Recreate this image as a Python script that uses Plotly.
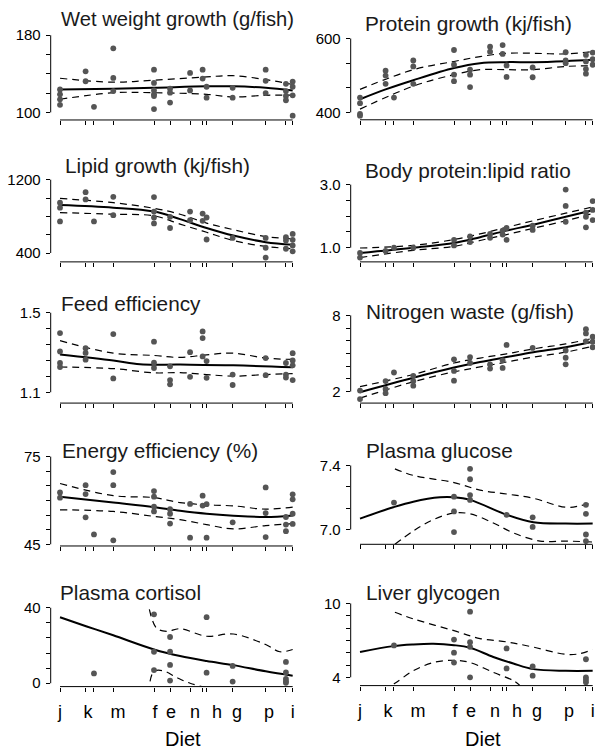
import plotly.graph_objects as go

# ---------------- data ----------------
DIET_POS = {"j": 0.0, "k0": 11.0, "k": 14.6, "m": 22.9, "f": 40.4, "e": 47.3, "n": 55.9,
            "h0": 61.3, "h": 63.0, "g": 74.2, "p": 88.4, "i0": 97.1, "i": 100.0}
X_LABELS = ["j", "k", "m", "f", "e", "n", "h", "g", "p", "i"]
X_LABEL_POS = [0, 12.0, 24.9, 40.8, 47.7, 58.0, 67.5, 76.1, 89.8, 100]

CX = [0, 22.9, 40.4, 51.6, 63.0, 74.5, 88.4, 100]

wet_pts = {"j": [123.8, 118.7, 113.6, 107.8], "k0": [142.6, 132.3], "k": [105.8],
           "m": [166.4, 135.7, 122.1], "f": [144.3, 130.6, 122.8, 118.7, 117.0, 103.4],
           "e": [124.5, 120.4, 110.2], "n": [140.9, 122.8], "h0": [144.3, 135.1],
           "h": [126.6, 115.3], "g": [125.5, 115.3], "p": [144.3, 132.7, 120.0],
           "i0": [129.6, 122.1, 117.0, 112.6], "i": [132.0, 126.6, 117.7, 96.6]}
wet_fit_x = [0, 22.9, 40.4, 63.0, 74.2, 88.4, 100]
wet_fit = [123.8, 124.5, 125.5, 127.0, 127.0, 125.5, 122.8]
wet_hi_x = [0, 22.9, 40.4, 63.0, 74.2, 88.4, 100]
wet_hi = [135.4, 131.3, 133.4, 136.8, 138.1, 134.0, 128.9]
wet_lo_x = [0, 22.9, 40.4, 63.0, 74.2, 88.4, 100]
wet_lo = [113.6, 120.4, 120.4, 118.7, 116.0, 117.7, 118.0]
wet_yticks = [100, 120, 140, 160, 180]

pro_pts = {"j": [440, 424.9, 395.6, 391.1], "k0": [512.9, 499.6, 477.3], "k": [440],
           "m": [540.4, 524.4, 477.3], "f": [568.9, 528.9, 502.2, 484.4],
           "e": [515.6, 502.2, 468.4], "n": [577.8, 564.4], "h0": [582.2, 558.2],
           "h": [527.1, 496], "g": [521.8, 495.1], "p": [562.7, 540.4, 533.3],
           "i0": [555.6, 537.8, 517.3, 504.9], "i": [561.8, 544, 528.9]}
pro_fit_x = [0, 11.0, 22.9, 40.4, 51.6, 63.0, 74.5, 88.4, 100]
pro_fit = [435.6, 462.2, 487.1, 520, 533.3, 536, 536, 538.7, 542.2]
pro_hi_x = CX
pro_hi = [462.2, 515.6, 537.8, 551.1, 560, 560, 558.2, 564.4]
pro_lo_x = CX
pro_lo = [408.9, 471.1, 502.2, 515.6, 515.6, 515.6, 524.4, 526.2]
pro_yticks = [400, 466.67, 533.33, 600]

lip_pts = {"j": [948.9, 895.1, 744.4], "k0": [1063.7, 984.8], "k": [744.4],
           "m": [1013.5, 812.6], "f": [1009.9, 852.0, 787.5, 722.9], "e": [794.7, 672.7],
           "n": [852.0, 758.8], "h0": [830.5, 751.6], "h": [787.5, 547.2], "g": [565.1],
           "p": [565.1, 457.5, 349.9], "i0": [572.3, 536.4, 446.7],
           "i": [608.1, 543.6, 482.6, 418.1]}
lip_fit_x = CX
lip_fit = [923.8, 895.1, 852.0, 769.6, 672.7, 590.2, 518.5, 489.8]
lip_hi_x = CX
lip_hi = [995.5, 948.9, 887.9, 823.4, 726.5, 654.8, 579.4, 554.3]
lip_lo_x = CX
lip_lo = [841.3, 823.4, 805.4, 715.8, 626.1, 536.4, 471.8, 446.7]
lip_yticks = [400, 600, 800, 1000, 1200]

rat_pts = {"j": [0.833, 0.688], "k0": [0.896], "k": [1.0], "m": [1.0], "f": [1.25, 1.073],
           "e": [1.354, 1.177], "n": [1.4375, 1.3125], "h0": [1.542, 1.417],
           "h": [1.625, 1.25], "g": [1.698, 1.5625], "p": [2.844, 2.323, 1.823],
           "i0": [2.115, 1.979, 1.646], "i": [2.479, 2.198, 1.875]}
rat_fit_x = CX
rat_fit = [0.833, 1.0, 1.146, 1.333, 1.542, 1.729, 1.979, 2.1875]
rat_hi_x = CX
rat_hi = [0.99, 1.073, 1.26, 1.4375, 1.646, 1.854, 2.094, 2.292]
rat_lo_x = CX
rat_lo = [0.688, 0.917, 1.042, 1.229, 1.417, 1.615, 1.854, 2.083]
rat_yticks = [1.0, 1.5, 2.0, 2.5, 3.0]

fe_pts = {"j": [1.3975, 1.305, 1.247, 1.227], "k0": [1.3215, 1.298, 1.264],
          "m": [1.3926, 1.1694], "f": [1.3545, 1.249, 1.222], "e": [1.2306, 1.161, 1.140],
          "n": [1.3016, 1.1777], "h0": [1.4058, 1.3727, 1.280], "h": [1.257, 1.1727],
          "g": [1.189, 1.1364], "p": [1.272, 1.186], "i0": [1.247, 1.189, 1.174],
          "i": [1.2967, 1.260, 1.2355, 1.161]}
fe_fit_x = [0, 22.9, 34.4, 51.6, 74.5, 100]
fe_fit = [1.290, 1.260, 1.2405, 1.239, 1.2355, 1.2256]
fe_hi_x = CX
fe_hi = [1.3595, 1.2967, 1.285, 1.275, 1.2884, 1.2967, 1.272, 1.265]
fe_lo_x = CX
fe_lo = [1.227, 1.219, 1.1975, 1.199, 1.189, 1.181, 1.189, 1.194]
fe_yticks = [1.1, 1.18, 1.26, 1.34, 1.42, 1.5]

nw_pts = {"j": [2.078, 1.405], "k0": [2.828, 2.207, 1.871], "k": [3.5],
          "m": [3.241, 2.828, 2.466], "f": [4.535, 3.629, 2.854], "e": [4.716, 4.25],
          "n": [4.147, 3.81], "h0": [4.457, 3.862], "h": [5.672], "g": [5.44],
          "p": [5.233, 4.664, 4.147], "i0": [6.914, 6.578, 5.957], "i": [6.319, 5.931, 5.491]}
nw_fit_x = CX
nw_fit = [1.95, 3.086, 3.888, 4.328, 4.716, 5.104, 5.491, 5.931]
nw_hi_x = CX
nw_hi = [2.388, 3.345, 4.25, 4.638, 4.974, 5.362, 5.75, 6.19]
nw_lo_x = CX
nw_lo = [1.483, 2.776, 3.552, 3.94, 4.328, 4.716, 5.104, 5.569]
nw_yticks = [2, 3, 4, 5, 6, 7, 8]

ee_pts = {"j": [62.75, 60.96], "k0": [65.22, 62.19, 54.21], "k": [48.37],
          "m": [69.72, 65.22, 46.35], "f": [63.2, 61.29, 57.92, 56.24],
          "e": [57.02, 55.45, 52.08], "n": [58.82, 47.25], "h0": [61.63, 58.26],
          "h": [58.71, 47.25], "g": [52.53], "p": [64.44, 55.67, 47.47],
          "i0": [54.33, 51.74, 49.49], "i": [62.08, 60.39, 55.45, 51.97]}
ee_fit_x = CX
ee_fit = [61.29, 59.27, 57.7, 56.46, 55.45, 54.78, 54.33, 54.89]
ee_hi_x = CX
ee_hi = [65.79, 61.63, 60.96, 59.27, 58.48, 58.15, 57.02, 57.7]
ee_lo_x = CX
ee_lo = [56.8, 56.24, 54.55, 53.43, 51.74, 50.28, 51.4, 52.08]
ee_yticks = [45, 50, 55, 60, 65, 70, 75]

gl_pts = {"k": [7.168], "f": [7.205, 7.113, 6.984], "e": [7.379, 7.314, 7.215, 7.185],
          "h": [7.092], "g": [7.076, 7.016], "i0": [7.154, 7.098, 6.969, 6.928]}
gl_fit_x = [0, 14.3, 22.9, 34.4, 40.4, 47.3, 63.0, 74.5, 88.4, 100]
gl_fit = [7.068, 7.139, 7.174, 7.201, 7.201, 7.185, 7.092, 7.045, 7.037, 7.037]
gl_hi_x = [15.0, 22.9, 40.4, 51.6, 63.0, 74.5, 88.4, 94.5, 100]
gl_hi = [7.379, 7.338, 7.293, 7.246, 7.222, 7.195, 7.139, 7.148, 7.168]
gl_lo_x = [15.0, 22.9, 31.5, 40.4, 47.3, 57.3, 65.9, 77.4, 88.4, 100]
gl_lo = [6.908, 6.99, 7.062, 7.103, 7.098, 7.041, 6.979, 6.928, 6.928, 6.922]
gl_yticks = [7.0, 7.1333, 7.2667, 7.4]

co_pts = {"k": [5.2], "f": [36.5, 16.7, 7.0], "e": [24.5, 16.7, 9.7, 1.4], "h": [35.0, 5.6],
          "g": [9.2, 0.9], "i0": [11.3, 5.7, 2.3, 1.0, 0.2]}
co_fit_x = [0, 11.5, 22.9, 40.4, 51.6, 63.0, 74.5, 88.4, 100]
co_fit = [35.0, 30.1, 25.4, 17.9, 14.4, 11.8, 9.6, 6.3, 4.0]
co_hi_x = [38.4, 41.5, 45.8, 51.6, 63.0, 74.5, 88.4, 94.5, 100]
co_hi = [39.1, 29.2, 27.5, 28.9, 24.9, 26.1, 20.5, 16.7, 17.9]
co_lo_x = [38.7, 40.4, 44.4, 50.1, 55.9, 65.9, 74.5, 88.4, 100]
co_lo = [1.0, 6.3, 6.6, 3.1, 0.0, -3.0, -3.8, -3.8, -2.4]
co_yticks = [0, 8, 16, 24, 32, 40]

lg_pts = {"k": [6.587], "f": [7.067, 6.0, 5.2], "e": [9.333, 6.853, 6.48, 4.0],
          "h": [6.347, 4.72], "g": [4.88, 4.133], "i0": [5.467, 4.0, 3.813, 3.6]}
lg_fit_x = [0, 14.3, 22.9, 31.5, 40.4, 47.3, 57.3, 65.9, 74.5, 88.4, 100]
lg_fit = [6.053, 6.533, 6.667, 6.72, 6.613, 6.4, 5.653, 5.12, 4.667, 4.533, 4.533]
lg_hi_x = [15.0, 22.9, 40.4, 51.6, 63.0, 74.5, 88.4, 94.5, 100]
lg_hi = [9.28, 8.747, 7.787, 7.147, 6.88, 6.453, 5.867, 5.92, 6.267]
lg_lo_x = [10.0, 15.0, 22.9, 31.5, 40.4, 47.3, 57.3, 65.9, 68.8]
lg_lo = [2.987, 3.52, 4.533, 5.2, 5.387, 5.2, 4.4, 3.733, 3.33]
lg_yticks = [4, 5, 6, 7, 8, 9, 10]

TITLES = ["Wet weight growth (g/fish)", "Protein growth (kj/fish)", "Lipid growth (kj/fish)",
          "Body protein:lipid ratio", "Feed efficiency", "Nitrogen waste (g/fish)",
          "Energy efficiency (%)", "Plasma glucose", "Plasma cortisol", "Liver glycogen"]
YTICKTEXT = [["100", "180"], ["400", "600"], ["400", "1200"], ["1.0", "3.0"], ["1.1", "1.5"],
             ["2", "8"], ["45", "75"], ["7.0", "7.4"], ["0", "40"], ["4", "10"]]

SERIES = [
    (wet_pts, wet_fit_x, wet_fit, wet_hi_x, wet_hi, wet_lo_x, wet_lo, wet_yticks),
    (pro_pts, pro_fit_x, pro_fit, pro_hi_x, pro_hi, pro_lo_x, pro_lo, pro_yticks),
    (lip_pts, lip_fit_x, lip_fit, lip_hi_x, lip_hi, lip_lo_x, lip_lo, lip_yticks),
    (rat_pts, rat_fit_x, rat_fit, rat_hi_x, rat_hi, rat_lo_x, rat_lo, rat_yticks),
    (fe_pts, fe_fit_x, fe_fit, fe_hi_x, fe_hi, fe_lo_x, fe_lo, fe_yticks),
    (nw_pts, nw_fit_x, nw_fit, nw_hi_x, nw_hi, nw_lo_x, nw_lo, nw_yticks),
    (ee_pts, ee_fit_x, ee_fit, ee_hi_x, ee_hi, ee_lo_x, ee_lo, ee_yticks),
    (gl_pts, gl_fit_x, gl_fit, gl_hi_x, gl_hi, gl_lo_x, gl_lo, gl_yticks),
    (co_pts, co_fit_x, co_fit, co_hi_x, co_hi, co_lo_x, co_lo, co_yticks),
    (lg_pts, lg_fit_x, lg_fit, lg_hi_x, lg_hi, lg_lo_x, lg_lo, lg_yticks),
]

# ---------------- layout geometry (pixels) ----------------
W, H = 595, 754
COLS = [(50.7, 295.0), (350.7, 595.0)]
XR = [-4, 101]
# (region top px, region bottom px, px of top tick, px of bottom tick, title x px, title centre y px, title size)
GEOM = [
    (24.0, 117.7, 31.7, 110.0, 59.0, 15.5, 20.2),
    (28.0, 117.5, 35.0, 110.0, 362.7, 20.0, 20.8),
    (169.0, 261.7, 178.3, 252.7, 62.7, 163.8, 20.8),
    (169.0, 261.7, 183.3, 247.3, 362.7, 168.7, 20.8),
    (302.0, 405.0, 313.3, 394.0, 59.3, 303.7, 20.8),
    (304.0, 405.0, 316.0, 393.3, 364.0, 312.2, 20.8),
    (455.0, 550.0, 459.3, 548.3, 60.0, 453.5, 20.8),
    (455.0, 548.3, 468.3, 533.3, 364.0, 453.3, 20.8),
    (606.0, 692.7, 612.7, 689.3, 58.3, 596.8, 20.8),
    (600.0, 691.7, 608.3, 683.3, 364.0, 596.8, 20.8),
]

FONT = "Liberation Sans, Arial, Helvetica, sans-serif"
DOT = "#555555"

fig = go.Figure()
layout = dict(width=W, height=H, margin=dict(l=0, r=0, t=0, b=0),
              paper_bgcolor="white", plot_bgcolor="white", showlegend=False,
              font=dict(family=FONT, color="black"))
shapes, annotations = [], []

for i, (pts, fx, fy, hx, hy, lx, ly, yt) in enumerate(SERIES):
    n = i + 1
    sfx = "" if n == 1 else str(n)
    xa, ya = "x" + sfx, "y" + sfx
    col = i % 2
    top, bot, ptop, pbot, tx, ty, tsize = GEOM[i]
    vtop, vbot = yt[-1], yt[0]
    slope = (vbot - vtop) / (pbot - ptop)
    yr = [vtop + (bot - ptop) * slope, vtop + (top - ptop) * slope]
    x0p, x1p = COLS[col]
    is_bottom = i >= 8
    layout["xaxis" + sfx] = dict(
        domain=[x0p / W, x1p / W], range=XR, anchor=ya, showgrid=False, zeroline=False,
        showline=False, tickmode="array", tickvals=X_LABEL_POS, ticktext=X_LABELS,
        ticks="", showticklabels=is_bottom, ticklabelstandoff=12,
        tickfont=dict(size=18, family=FONT, color="black"),
        minor=dict(tickmode="array", tickvals=list(DIET_POS.values()), ticks="outside",
                   ticklen=4, tickwidth=1, tickcolor="black", showgrid=False))
    ttext = [YTICKTEXT[i][0]] + [""] * (len(yt) - 2) + [YTICKTEXT[i][1]]
    layout["yaxis" + sfx] = dict(
        domain=[1 - bot / H, 1 - top / H], range=yr, anchor=xa, showgrid=False,
        zeroline=False, showline=False, tickmode="array", tickvals=yt, ticktext=ttext,
        ticks="outside", ticklen=4, tickwidth=1, tickcolor="black",
        tickfont=dict(size=15, family=FONT, color="black"), ticklabelstandoff=2)
    shapes.append(dict(type="line", xref=f"{xa} domain", yref=ya, x0=0, x1=0,
                       y0=vbot, y1=vtop, line=dict(color="black", width=1)))
    shapes.append(dict(type="line", xref=xa, yref=f"{ya} domain", x0=DIET_POS["j"],
                       x1=DIET_POS["i"], y0=0, y1=0, line=dict(color="black", width=1)))
    xs, ys = [], []
    for k, vals in pts.items():
        xs += [DIET_POS[k]] * len(vals)
        ys += vals
    fig.add_trace(go.Scatter(x=hx, y=hy, mode="lines", xaxis=xa, yaxis=ya,
                             line=dict(color="black", width=1.2, dash="7px,5px", shape="spline")))
    fig.add_trace(go.Scatter(x=lx, y=ly, mode="lines", xaxis=xa, yaxis=ya,
                             line=dict(color="black", width=1.2, dash="7px,5px", shape="spline")))
    fig.add_trace(go.Scatter(x=fx, y=fy, mode="lines", xaxis=xa, yaxis=ya,
                             line=dict(color="black", width=2, shape="spline")))
    fig.add_trace(go.Scatter(x=xs, y=ys, mode="markers", xaxis=xa, yaxis=ya, cliponaxis=False,
                             marker=dict(size=5.8, color=DOT, line=dict(width=0))))
    annotations.append(dict(text=TITLES[i], xref="paper", yref="paper", x=tx / W,
                            y=1 - ty / H, xanchor="left", yanchor="middle", showarrow=False,
                            font=dict(size=tsize, family=FONT, color="#1a1a1a")))
    if is_bottom:
        annotations.append(dict(text="Diet", xref="paper", yref="paper",
                                x=(182.5 + 300 * col) / W, y=1 - 746 / H, xanchor="center",
                                yanchor="middle", showarrow=False,
                                font=dict(size=20, family=FONT, color="black")))

layout["shapes"] = shapes
layout["annotations"] = annotations
fig.update_layout(**layout)
fig.write_html("out.html", config={"displayModeBar": False},
               post_script="document.body.style.margin='0';document.body.style.overflow='hidden';")
